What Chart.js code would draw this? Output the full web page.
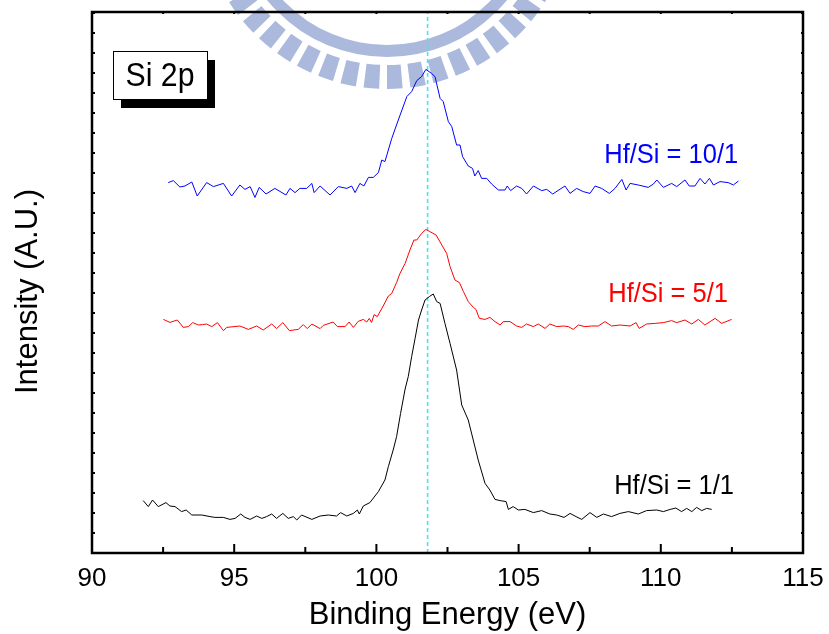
<!DOCTYPE html>
<html>
<head>
<meta charset="utf-8">
<title>Si 2p XPS</title>
<script src="https://cdn.jsdelivr.net/npm/chart.js@4.4.0/dist/chart.umd.min.js"></script>
<style>
  html, body { margin: 0; padding: 0; background: #fff; }
  #wrap { width: 829px; height: 634px; }
</style>
</head>
<body>
<div id="wrap"><canvas id="xpsChart" width="829" height="634"></canvas></div>
<script>
// DATA ---------------------------------------------------------------------
const xTickStep = 5;
const xMinorStep = 2.5;
const yMax = 27.05;
const peakLine = 101.8;
const seriesLabels = ['Hf/Si = 10/1', 'Hf/Si = 5/1', 'Hf/Si = 1/1'];
const panelLabel = 'Si 2p';
const yTitle = 'Intensity (A.U.)';
const xTitle = 'Binding Energy (eV)';

// Hf/Si = 10/1 (blue, offset up)
const blueEnergy = [92.68,92.86,93.09,93.27,93.51,93.70,94.03,94.27,94.62,94.91,95.20,95.38,95.56,95.73,95.88,96.12,96.43,96.82,96.96,97.14,97.31,97.55,97.73,97.81,98.02,98.37,98.66,98.96,99.13,99.25,99.42,99.56,99.72,99.89,100.07,100.19,100.30,100.54,100.77,101.07,101.24,101.42,101.59,101.74,101.94,102.06,102.24,102.35,102.53,102.65,102.82,102.94,103.03,103.23,103.38,103.46,103.58,103.70,103.88,104.05,104.29,104.52,104.60,104.72,104.93,105.11,105.28,105.52,105.81,105.99,106.20,106.63,106.81,107.04,107.27,107.51,107.69,107.92,108.19,108.39,108.63,108.78,108.92,109.21,109.56,109.74,109.86,110.09,110.38,110.56,110.85,111.00,111.20,111.38,111.55,111.71,111.85,112.08,112.37,112.55,112.73];
const blueIntensity = [18.52,18.62,18.30,18.35,18.55,17.85,18.52,18.32,18.48,17.85,18.40,18.18,18.32,17.78,18.28,17.95,18.23,17.90,18.23,18.02,18.23,18.23,18.48,18.02,18.35,17.90,18.32,18.23,18.35,18.02,18.48,18.35,18.78,18.78,19.02,19.65,19.57,20.73,21.65,22.82,23.07,23.62,23.82,24.18,23.98,23.82,22.73,22.57,21.57,21.32,20.40,20.40,19.82,19.35,19.23,18.85,19.12,18.73,18.73,18.45,18.15,18.15,18.35,18.12,18.35,18.23,17.95,18.35,18.12,18.18,17.95,18.35,17.98,18.23,18.07,17.98,18.35,18.23,17.98,18.23,18.68,18.15,18.48,18.40,18.28,18.45,18.65,18.28,18.48,18.32,18.65,18.35,18.35,18.73,18.45,18.73,18.40,18.57,18.52,18.40,18.60];

// Hf/Si = 5/1 (red)
const redEnergy = [92.51,92.74,93.00,93.21,93.39,93.54,93.74,93.89,94.03,94.21,94.41,94.62,94.74,95.20,95.50,95.79,96.02,96.32,96.49,96.71,96.94,97.25,97.43,97.57,97.73,98.02,98.13,98.48,98.63,98.90,99.04,99.19,99.36,99.54,99.66,99.75,99.83,99.92,100.03,100.24,100.42,100.54,100.71,100.83,101.01,101.18,101.32,101.42,101.59,101.74,101.88,102.10,102.30,102.47,102.59,102.76,102.92,103.06,103.23,103.41,103.50,103.62,103.82,103.99,104.17,104.35,104.46,104.70,104.93,105.11,105.28,105.52,105.69,105.93,106.10,106.34,106.57,106.75,106.92,107.10,107.33,107.57,107.80,108.04,108.27,108.57,108.92,109.13,109.24,109.50,109.80,110.09,110.38,110.56,110.85,111.09,111.32,111.55,111.91,112.14,112.49];
const redIntensity = [11.68,11.53,11.65,11.28,11.32,11.52,11.40,11.42,11.45,11.32,11.52,11.12,11.28,11.35,11.18,11.35,11.15,11.45,11.22,11.52,11.12,11.18,11.42,11.22,11.45,11.22,11.38,11.55,11.32,11.32,11.55,11.28,11.58,11.68,11.55,11.73,11.53,11.92,11.82,12.35,12.85,12.98,13.52,13.98,14.48,15.15,15.65,15.65,15.98,16.18,16.07,15.90,15.40,14.98,14.32,13.65,13.52,13.07,12.57,12.28,12.18,11.73,11.68,11.78,11.57,11.40,11.57,11.57,11.35,11.28,11.45,11.32,11.45,11.23,11.45,11.32,11.35,11.32,11.18,11.40,11.32,11.35,11.35,11.57,11.35,11.40,11.35,11.52,11.23,11.45,11.48,11.52,11.62,11.52,11.65,11.45,11.68,11.40,11.73,11.48,11.68];

// Hf/Si = 1/1 (black)
const blackEnergy = [91.80,91.98,92.13,92.33,92.60,92.74,92.92,93.15,93.31,93.51,93.86,94.15,94.32,94.62,94.85,95.03,95.23,95.38,95.56,95.79,95.97,96.14,96.32,96.49,96.71,96.90,97.08,97.20,97.37,97.73,98.02,98.31,98.60,98.74,98.96,99.19,99.33,99.40,99.54,99.77,99.95,100.07,100.30,100.42,100.59,100.71,100.85,101.01,101.12,101.24,101.36,101.48,101.59,101.71,101.86,102.00,102.12,102.24,102.41,102.59,102.82,103.00,103.23,103.58,103.82,103.99,104.17,104.35,104.56,104.64,104.81,104.99,105.22,105.52,105.81,106.10,106.34,106.60,106.81,107.02,107.22,107.51,107.75,107.98,108.27,108.56,108.86,109.21,109.50,109.86,110.09,110.33,110.53,110.73,110.91,111.09,111.26,111.44,111.61,111.79];
const blackIntensity = [2.62,2.32,2.65,2.32,2.52,2.35,2.32,2.07,2.15,1.90,1.90,1.82,1.78,1.78,1.68,1.73,1.95,1.78,1.68,1.85,1.73,1.82,1.95,1.73,1.98,1.73,1.82,1.65,1.90,1.68,1.85,1.90,1.85,2.02,1.85,1.98,2.15,1.95,2.35,2.52,2.85,3.07,3.65,4.32,5.15,5.82,6.98,8.20,8.82,9.82,10.73,11.65,12.15,12.65,12.82,12.95,12.57,12.48,11.48,10.48,9.15,7.40,6.65,4.65,3.48,3.15,2.68,2.62,2.57,2.18,2.32,2.15,2.18,2.02,2.12,1.95,1.90,1.78,1.98,1.82,1.68,2.02,1.78,1.95,1.82,1.98,2.07,1.95,2.12,2.15,2.07,2.18,2.25,2.07,2.23,2.07,2.28,2.12,2.23,2.18];

// HELPERS ------------------------------------------------------------------
const FONT = "'Liberation Sans', Arial, Helvetica, sans-serif";

function toPoints(xs, ys) {
    return xs.map((x, i) => ({ x: x, y: ys[i] }));
}

function spectrum(label, xs, ys, color) {
    return {
        label: label,
        data: toPoints(xs, ys),
        borderColor: color,
        backgroundColor: color,
        borderWidth: 1,
        showLine: true,
        pointRadius: 0,
        tension: 0
    };
}

// text a bit narrower than Arial, like the original plot font
function narrowText(ctx, text, x, y, sx) {
    ctx.save();
    ctx.translate(x, y);
    ctx.scale(sx, 1);
    ctx.fillText(text, 0, 0);
    ctx.restore();
}

// faint logo watermark behind the curves
const watermarkPlugin = {
    id: 'watermark',
    beforeDatasetsDraw(chart) {
        const ctx = chart.ctx;
        const cx = 387, cy = -98;
        ctx.save();
        ctx.fillStyle = '#aab9dc';
        // teeth
        for (let deg = -60; deg <= 60; deg += 7.2) {
            const a = (90 + deg) * Math.PI / 180;
            const half = 2.4 * Math.PI / 180;
            ctx.beginPath();
            ctx.arc(cx, cy, 187, a - half, a + half);
            ctx.arc(cx, cy, 163, a + half, a - half, true);
            ctx.closePath();
            ctx.fill();
        }
        // solid ring
        ctx.beginPath();
        ctx.arc(cx, cy, 155, 0, Math.PI);
        ctx.arc(cx, cy, 143, Math.PI, 0, true);
        ctx.closePath();
        ctx.fill();
        ctx.restore();
    }
};

// frame, inward ticks and text labels
const framePlugin = {
    id: 'frame',
    afterDraw(chart) {
        const { ctx, chartArea: a, scales: { x, y } } = chart;
        ctx.save();
        ctx.strokeStyle = '#000';
        ctx.lineCap = 'butt';

        // x ticks
        ctx.lineWidth = 2;
        for (let v = x.min; v <= x.max + 1e-6; v += xMinorStep) {
            const px = x.getPixelForValue(v);
            const major = Math.abs(v % xTickStep) < 1e-6;
            ctx.beginPath();
            ctx.moveTo(px, a.bottom);
            ctx.lineTo(px, a.bottom - (major ? 9 : 6));
            ctx.moveTo(px, a.top);
            ctx.lineTo(px, a.top + 2);
            ctx.stroke();
        }
        // y ticks
        for (let v = 1; v < y.max; v += 1) {
            const py = y.getPixelForValue(v);
            ctx.beginPath();
            ctx.moveTo(a.left, py);
            ctx.lineTo(a.left + 3, py);
            ctx.moveTo(a.right, py);
            ctx.lineTo(a.right - 2, py);
            ctx.stroke();
        }
        // frame
        ctx.lineWidth = 2.5;
        ctx.strokeRect(a.left, a.top, a.right - a.left, a.bottom - a.top);

        // y title
        ctx.fillStyle = '#000';
        ctx.font = '31px ' + FONT;
        ctx.textAlign = 'center';
        ctx.textBaseline = 'middle';
        ctx.save();
        ctx.translate(a.left - 64, (a.top + a.bottom) / 2 + 9);
        ctx.rotate(-Math.PI / 2);
        ctx.fillText(yTitle, 0, 0);
        ctx.restore();

        // series labels
        ctx.font = '28px ' + FONT;
        ctx.textAlign = 'left';
        ctx.textBaseline = 'alphabetic';
        const labelPos = [[112.72, 19.5, '#0000ff'], [112.36, 12.55, '#ff0000'], [112.57, 2.95, '#000000']];
        labelPos.forEach((p, i) => {
            const sx = 0.91;
            const w = ctx.measureText(seriesLabels[i]).width * sx;
            ctx.fillStyle = p[2];
            narrowText(ctx, seriesLabels[i], x.getPixelForValue(p[0]) - w, y.getPixelForValue(p[1]), sx);
        });

        // panel label box with shadow
        const bx = a.left + 21, by = a.top + 39, bw = 94, bh = 48;
        ctx.fillStyle = '#000';
        ctx.fillRect(bx + 8, by + 9, bw, bh);
        ctx.fillStyle = '#fff';
        ctx.fillRect(bx, by, bw, bh);
        ctx.lineWidth = 1;
        ctx.strokeRect(bx + 0.5, by + 0.5, bw, bh);
        ctx.fillStyle = '#000';
        ctx.font = '34px ' + FONT;
        const pw = ctx.measureText(panelLabel).width * 0.89;
        narrowText(ctx, panelLabel, bx + (bw - pw) / 2, by + 35, 0.89);
        ctx.restore();
    }
};

// CHART --------------------------------------------------------------------
document.addEventListener('DOMContentLoaded', () => {
    const ctx = document.getElementById('xpsChart').getContext('2d');

    new Chart(ctx, {
        type: 'scatter',
        data: {
            datasets: [
                spectrum(seriesLabels[0], blueEnergy, blueIntensity, '#0000ff'),
                spectrum(seriesLabels[1], redEnergy, redIntensity, '#ff0000'),
                spectrum(seriesLabels[2], blackEnergy, blackIntensity, '#000000'),
                {
                    label: 'peak',
                    data: [{ x: peakLine, y: 0 }, { x: peakLine, y: yMax }],
                    borderColor: '#45e6f2',
                    borderWidth: 1.6,
                    borderDash: [4, 3],
                    showLine: true,
                    pointRadius: 0
                }
            ]
        },
        options: {
            responsive: false,
            animation: false,
            layout: { padding: { top: 12, right: 26, left: 0, bottom: 0 } },
            plugins: {
                legend: { display: false },
                tooltip: { enabled: false }
            },
            scales: {
                x: {
                    type: 'linear',
                    min: 90,
                    max: 115,
                    afterFit: s => { s.height = 81; s.paddingLeft = 0; s.paddingRight = 0; },
                    grid: { display: false, drawTicks: false },
                    border: { display: false },
                    ticks: {
                        stepSize: xTickStep,
                        color: '#000',
                        padding: 10,
                        maxRotation: 0,
                        font: { family: FONT, size: 26 }
                    },
                    title: {
                        display: true,
                        text: xTitle,
                        color: '#000',
                        padding: 0,
                        font: { family: FONT, size: 31 }
                    }
                },
                y: {
                    type: 'linear',
                    min: 0,
                    max: yMax,
                    afterFit: s => { s.width = 92; },
                    grid: { display: false, drawTicks: false },
                    border: { display: false },
                    ticks: { display: false, stepSize: 1 },
                    title: { display: false, text: yTitle }
                }
            }
        },
        plugins: [watermarkPlugin, framePlugin]
    });
});
</script>
</body>
</html>
